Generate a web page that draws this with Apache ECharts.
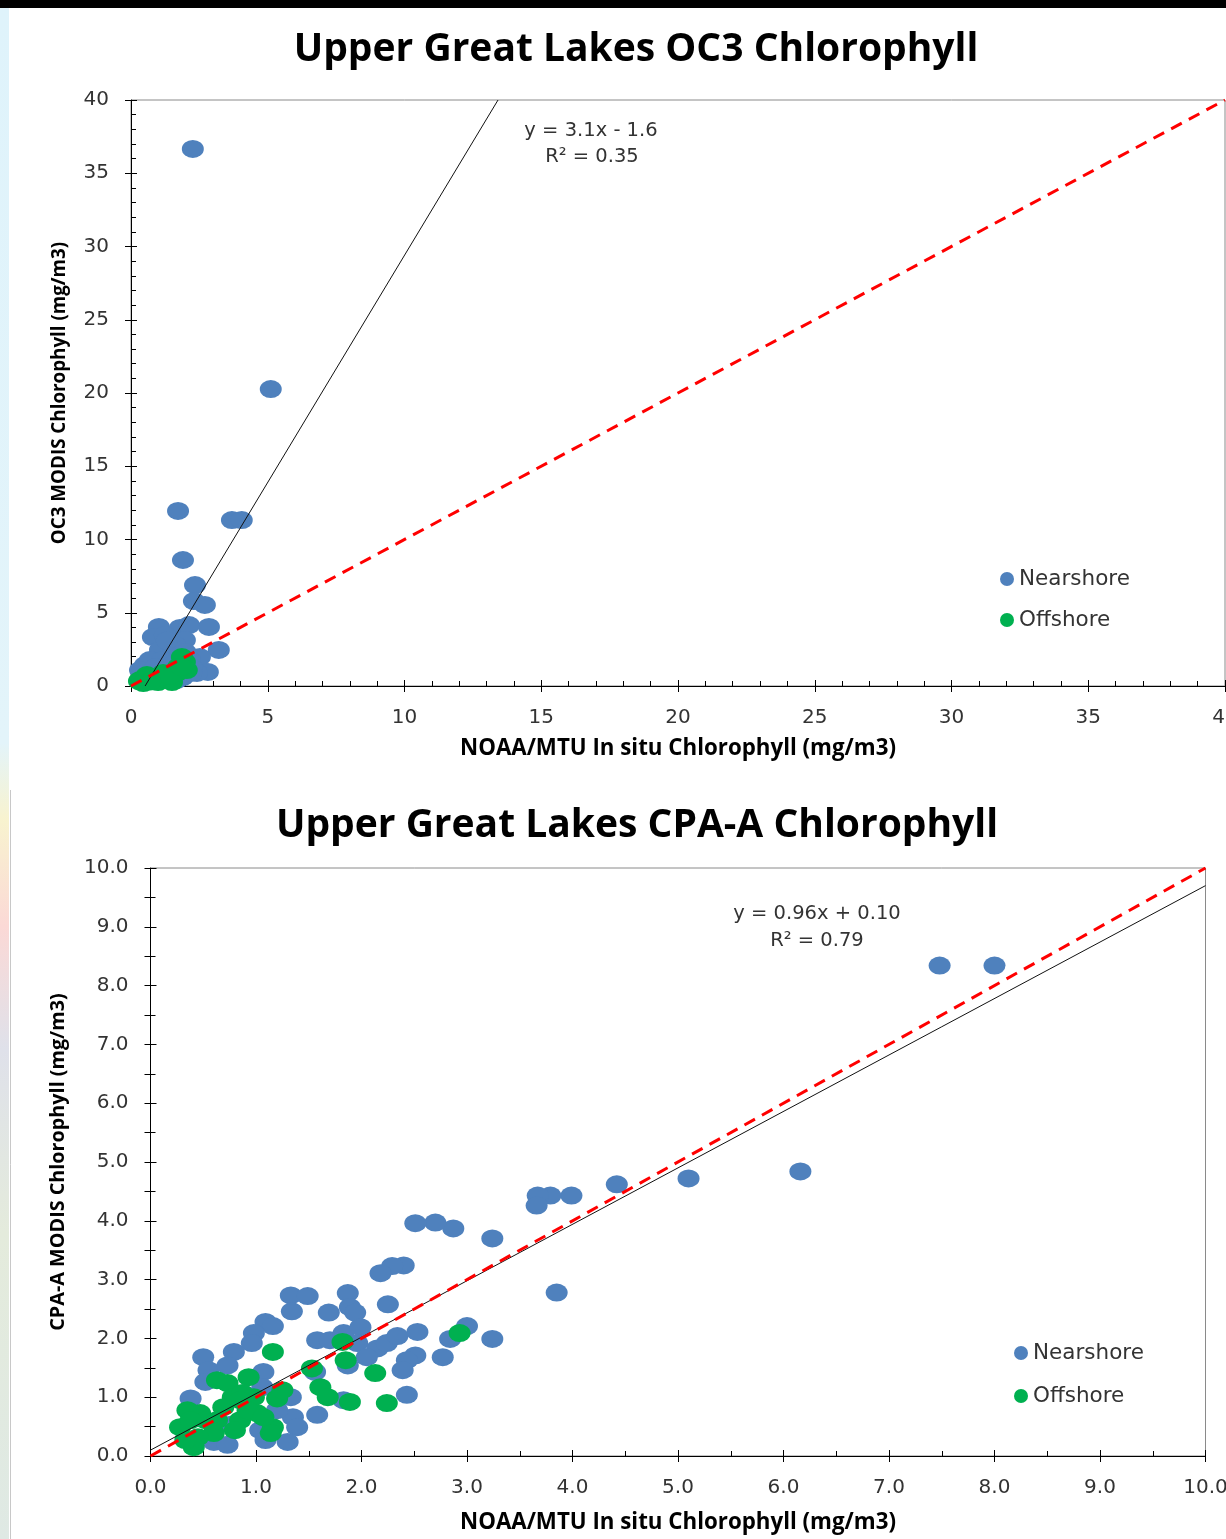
<!DOCTYPE html>
<html><head><meta charset="utf-8">
<script src="https://cdn.jsdelivr.net/npm/echarts@6/dist/echarts.min.js"></script>
<style>html,body{margin:0;padding:0;background:#fff}#c{width:1226px;height:1539px}</style>
</head><body><div id="c"></div>
<script>
// ---- data ----
const chartTitles = ['Upper Great Lakes OC3 Chlorophyll', 'Upper Great Lakes CPA-A Chlorophyll'];
const seriesNames = ['Nearshore', 'Offshore'];
const xAxisName = 'NOAA/MTU In situ Chlorophyll (mg/m3)';
const yAxisNames = ['OC3 MODIS Chlorophyll (mg/m3)', 'CPA-A MODIS Chlorophyll (mg/m3)'];

const oc3Nearshore = [[2.26,36.66],[5.11,20.27],[1.72,11.95],[3.69,11.33],[4.05,11.33],[1.90,8.60],[2.34,6.89],[2.30,5.80],[2.70,5.53],[2.85,4.03],[3.21,2.46],[1.02,4.03],[0.80,3.34],[1.79,3.96],[2.12,4.16],[1.42,2.66],[1.06,2.46],[2.52,1.98],[2.81,0.96],[2.41,0.89],[1.90,0.61],[1.68,0.41],[2.15,1.77],[1.97,3.14],[1.61,2.80],[1.24,3.48],[0.51,1.43],[0.69,1.77],[0.33,1.09],[1.24,1.23],[2.23,1.23],[1.50,2.12],[1.13,1.77],[1.31,3.10],[2.00,2.30],[2.20,0.90],[0.90,1.30],[1.60,1.60]];
const oc3Offshore = [[1.97,1.64],[1.86,1.98],[1.72,1.30],[0.80,0.55],[0.33,0.41],[0.29,0.34],[1.31,0.41],[1.68,0.89],[1.17,0.89],[2.04,1.09],[0.58,0.75],[0.99,0.27],[1.50,0.27],[0.45,0.20],[1.10,0.60],[1.40,0.70],[0.70,0.30],[1.85,1.30]];

const cpaNearshore = [[7.48,8.34],[8.00,8.34],[6.16,4.84],[5.10,4.72],[4.42,4.62],[3.99,4.43],[3.79,4.43],[3.67,4.43],[3.66,4.26],[3.85,2.78],[3.24,3.70],[2.87,3.87],[2.70,3.97],[2.51,3.96],[2.40,3.24],[2.29,3.23],[2.18,3.11],[1.33,2.73],[1.49,2.72],[1.34,2.46],[1.69,2.44],[1.87,2.77],[1.89,2.53],[1.94,2.44],[2.25,2.58],[1.09,2.28],[1.16,2.21],[0.98,2.09],[0.96,1.92],[1.58,1.97],[1.70,1.97],[1.83,2.09],[1.99,2.19],[1.96,1.92],[2.15,1.83],[2.24,1.92],[2.34,2.04],[2.53,2.11],[2.84,1.99],[3.00,2.21],[3.24,1.99],[2.77,1.68],[2.51,1.71],[2.43,1.63],[2.39,1.46],[2.05,1.68],[1.87,1.54],[1.56,1.43],[0.50,1.68],[0.79,1.77],[0.55,1.46],[0.73,1.54],[1.07,1.43],[0.52,1.26],[2.43,1.04],[1.83,0.95],[1.58,0.70],[0.38,0.98],[1.33,1.00],[1.35,0.66],[1.39,0.49],[1.30,0.24],[1.04,0.44],[0.60,0.24],[0.73,0.19],[1.06,1.17],[1.20,0.78],[0.90,1.04],[0.76,0.53],[1.09,0.27]];
const cpaOffshore = [[1.16,1.77],[1.53,1.49],[1.82,1.94],[1.85,1.63],[2.13,1.41],[1.61,1.17],[1.68,1.00],[1.89,0.92],[2.24,0.90],[2.93,2.09],[1.20,0.98],[1.25,1.12],[0.93,1.34],[0.63,1.29],[0.73,1.24],[0.78,1.00],[0.87,1.07],[0.98,1.00],[1.01,0.73],[0.85,0.61],[0.80,0.44],[0.60,0.39],[0.45,0.32],[0.41,0.15],[0.28,0.49],[0.35,0.78],[0.47,0.73],[0.69,0.83],[1.16,0.49],[1.14,0.39],[0.85,0.95],[0.52,0.61],[0.63,0.61],[0.92,0.78],[1.07,0.66],[0.38,0.61],[0.33,0.27]];

const oc3Fit = [3.1, -1.6];     // slope, intercept
const cpaFit = [0.96, 0.10];
const oc3Labels = ['y = 3.1x - 1.6', 'R² = 0.35'];
const cpaLabels = ['y = 0.96x + 0.10', 'R² = 0.79'];
const oc3Range = [0, 40];
const cpaRange = [0, 10];

// ---- helpers ----
const BLUE = '#4F81BD', GREEN = '#00B050';
const tickFont = 'DejaVu Sans';
const boldFont = 'Open Sans';
const ellipse = 'path://M0 1A1 1 0 1 1 2 1A1 1 0 1 1 0 1Z';

function fitLine(fit, range) {
  const [m, b] = fit;
  let x0 = range[0], x1 = range[1];
  const ylo = range[0], yhi = range[1];
  if (m * x0 + b < ylo) x0 = (ylo - b) / m;
  if (m * x1 + b > yhi) x1 = (yhi - b) / m;
  return [[x0, m * x0 + b], [x1, m * x1 + b]];
}
function mainAxis(g, range, interval, minorSplit, fmt, name, nameGap, nameSize, pos) {
  return {
    gridIndex: g, type: 'value', position: pos, min: range[0], max: range[1], interval,
    axisLine: { show: true, onZero: false, lineStyle: { color: '#000', width: 1 } },
    axisTick: { show: true, inside: true, length: 6, lineStyle: { color: '#000' } },
    minorTick: { show: true, splitNumber: minorSplit, length: 5, lineStyle: { color: '#000' } },
    splitLine: { show: false },
    axisLabel: { margin: 22, fontFamily: tickFont, fontSize: 20, color: '#333', formatter: fmt, hideOverlap: false },
    name, nameLocation: 'middle', nameGap,
    nameTextStyle: { fontFamily: boldFont, fontWeight: 'bold', fontSize: nameSize, color: '#000' }
  };
}
function outerAxis(g, range, interval, pos) {
  return {
    gridIndex: g, type: 'value', position: pos, min: range[0], max: range[1], interval,
    axisLine: { show: false }, axisLabel: { show: false }, splitLine: { show: false },
    axisTick: { show: true, inside: false, length: 6, lineStyle: { color: '#000' } }
  };
}
function scatter(name, data, color, ai) {
  return {
    name, type: 'scatter', xAxisIndex: ai, yAxisIndex: ai, data,
    symbol: ellipse, symbolSize: [22, 18],
    itemStyle: { color, opacity: 1 }, emphasis: { disabled: true }, z: 3
  };
}
function line(data, ai, style) {
  return {
    type: 'line', xAxisIndex: ai, yAxisIndex: ai, data, symbol: 'none',
    lineStyle: style, silent: true, z: 4, emphasis: { disabled: true }
  };
}
const int0 = v => String(v);
const fix1 = v => v.toFixed(1);

const legendText = { fontFamily: tickFont, fontSize: 21.5, color: '#333', lineHeight: 20 };

const option = {
  backgroundColor: '#ffffff',
  animation: false,
  grid: [
    { left: 131, top: 100, width: 1094, height: 586, show: true, borderColor: '#8a8a8a', borderWidth: 1, backgroundColor: 'transparent', outerBoundsMode: 'none', containLabel: false },
    { left: 150.5, top: 868, width: 1055, height: 588, show: true, borderColor: '#8a8a8a', borderWidth: 1, backgroundColor: 'transparent', outerBoundsMode: 'none', containLabel: false }
  ],
  xAxis: [
    mainAxis(0, oc3Range, 5, 5, int0, xAxisName, 52, 22.3, 'bottom'),
    outerAxis(0, oc3Range, 5, 'bottom'),
    mainAxis(1, cpaRange, 1, 2, fix1, xAxisName, 56, 22.3, 'bottom'),
    outerAxis(1, cpaRange, 1, 'bottom')
  ],
  yAxis: [
    mainAxis(0, oc3Range, 5, 5, int0, yAxisNames[0], 62, 18.8, 'left'),
    outerAxis(0, oc3Range, 5, 'left'),
    mainAxis(1, cpaRange, 1, 2, fix1, yAxisNames[1], 82, 19.8, 'left'),
    outerAxis(1, cpaRange, 0.5, 'left')
  ],
  legend: [
    { left: 1000, top: 568, padding: 0, orient: 'vertical', icon: 'circle', itemWidth: 14, itemHeight: 14, itemGap: 19, data: seriesNames, textStyle: legendText, selectedMode: false },
    { left: 1014, top: 1342, padding: 0, orient: 'vertical', icon: 'circle', itemWidth: 14, itemHeight: 14, itemGap: 21, data: seriesNames, textStyle: legendText, selectedMode: false }
  ],
  series: [
    scatter(seriesNames[0], oc3Nearshore, BLUE, 0),
    scatter(seriesNames[1], oc3Offshore, GREEN, 0),
    line(fitLine(oc3Fit, oc3Range), 0, { color: '#111', width: 1 }),
    line(fitLine([1, 0], oc3Range), 0, { color: '#FF0000', width: 3, type: [12, 8] }),
    scatter(seriesNames[0], cpaNearshore, BLUE, 2),
    scatter(seriesNames[1], cpaOffshore, GREEN, 2),
    line(fitLine(cpaFit, cpaRange), 2, { color: '#111', width: 1 }),
    line(fitLine([1, 0], cpaRange), 2, { color: '#FF0000', width: 3, type: [12, 8] })
  ],
  graphic: [
    { type: 'rect', shape: { x: 0, y: 0, width: 1226, height: 8 }, style: { fill: '#000' }, silent: true },
    { type: 'rect', shape: { x: 0, y: 8, width: 9, height: 1531 },
      style: { fill: { type: 'linear', x: 0, y: 0, x2: 0, y2: 1, colorStops: [
        { offset: 0, color: '#dff3fb' }, { offset: 0.48, color: '#e3f4fa' }, { offset: 0.53, color: '#f8f3cf' },
        { offset: 0.6, color: '#fbd9d6' }, { offset: 0.68, color: '#dfe1ea' }, { offset: 0.8, color: '#e4ebdc' },
        { offset: 1, color: '#dfe9e4' }] } }, silent: true },
    { type: 'line', shape: { x1: 10.5, y1: 790, x2: 10.5, y2: 1539 }, style: { stroke: '#c8c8c8', lineWidth: 1 }, silent: true },
    { type: 'text', x: 636, y: 50, style: { text: chartTitles[0], align: 'center', verticalAlign: 'middle', font: 'bold 39px "Open Sans"', fill: '#000' } },
    { type: 'text', x: 637, y: 826, style: { text: chartTitles[1], align: 'center', verticalAlign: 'middle', font: 'bold 39px "Open Sans"', fill: '#000' } },
    { type: 'text', x: 591, y: 131, style: { text: oc3Labels[0], align: 'center', verticalAlign: 'middle', font: '19.5px "DejaVu Sans"', fill: '#333' } },
    { type: 'text', x: 592, y: 157, style: { text: oc3Labels[1], align: 'center', verticalAlign: 'middle', font: '19.5px "DejaVu Sans"', fill: '#333' } },
    { type: 'text', x: 817, y: 914, style: { text: cpaLabels[0], align: 'center', verticalAlign: 'middle', font: '19.5px "DejaVu Sans"', fill: '#333' } },
    { type: 'text', x: 817, y: 941, style: { text: cpaLabels[1], align: 'center', verticalAlign: 'middle', font: '19.5px "DejaVu Sans"', fill: '#333' } }
  ]
};
const chart = echarts.init(document.getElementById('c'), null, { renderer: 'canvas' });
chart.setOption(option);
</script>
</body></html>
